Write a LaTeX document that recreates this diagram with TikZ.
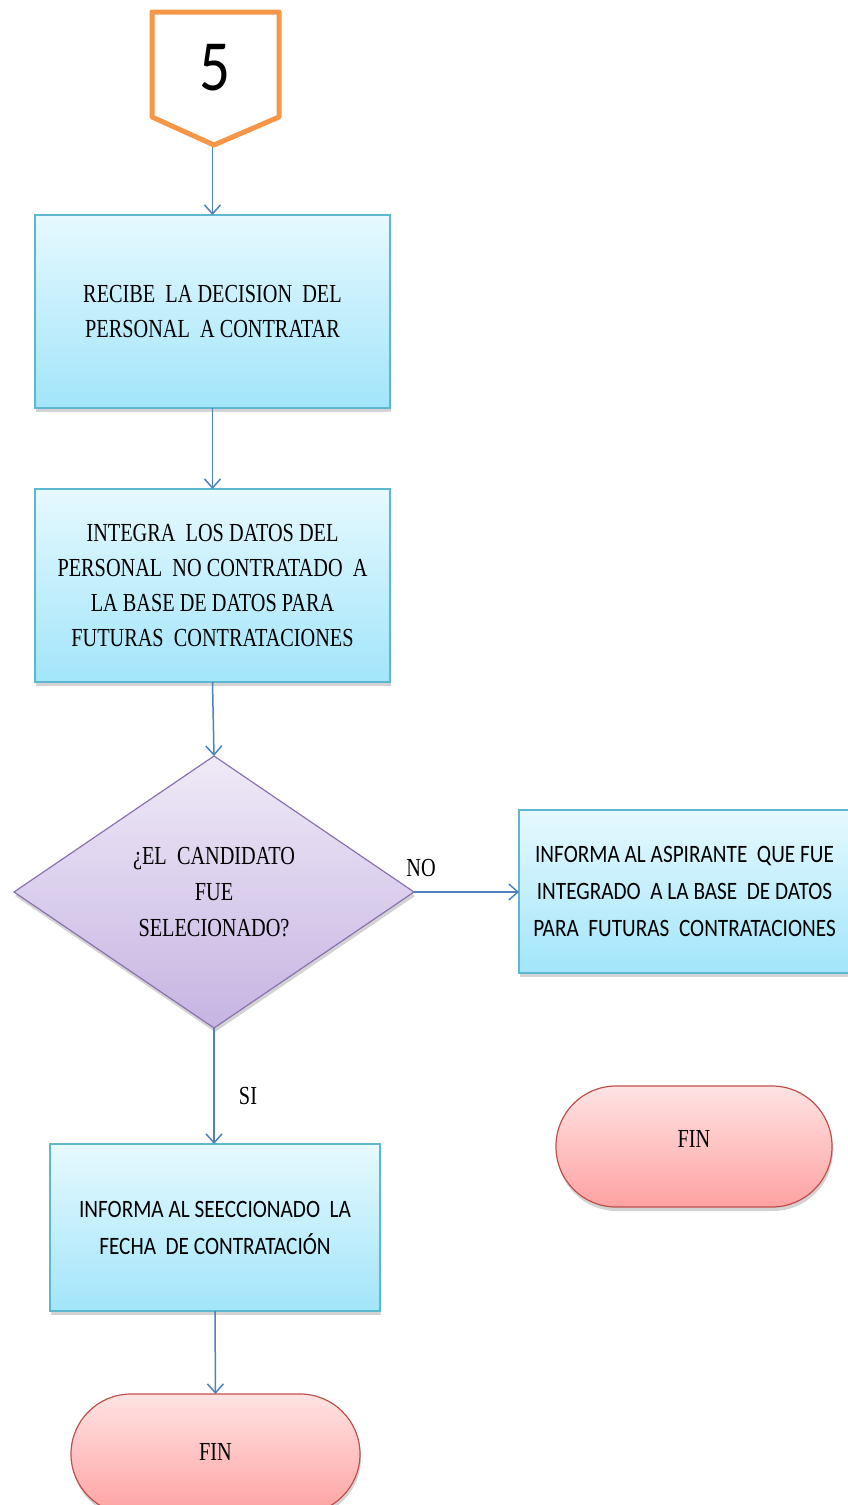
\documentclass[tikz,border=0pt]{standalone}
\usepackage{fontspec}
\setmainfont{Liberation Serif}[FakeStretch=0.78]
\newfontfamily\calibri{Carlito}[FakeStretch=0.85]
\usetikzlibrary{shapes.geometric,shadows,arrows.meta}
\definecolor{flecha}{HTML}{4F81BD}
\definecolor{naranja}{HTML}{F79646}
\definecolor{cianborde}{HTML}{5DB7CF}
\definecolor{ciantop}{HTML}{E6F9FE}
\definecolor{cianbot}{HTML}{A2E5FA}
\definecolor{lilaborde}{HTML}{8A72B0}
\definecolor{lilatop}{HTML}{EFEAF7}
\definecolor{lilabot}{HTML}{C6B4E2}
\definecolor{rojoborde}{HTML}{C0504D}
\definecolor{rojotop}{HTML}{FFE3E3}
\definecolor{rojobot}{HTML}{FFA2A2}
\begin{document}
\begin{tikzpicture}[x=1pt,y=-1pt,inner sep=0pt,outer sep=0pt,
sombra/.style={drop shadow={shadow xshift=1pt,shadow yshift=-4pt,opacity=0.35}},
procblock/.style={draw=cianborde,line width=1.5pt,rectangle,top color=ciantop,bottom color=cianbot,
  align=center,font=\fontsize{26}{35}\selectfont,sombra},
decblock/.style={draw=lilaborde,line width=1.2pt,diamond,top color=lilatop,bottom color=lilabot,
  align=center,font=\fontsize{26}{36}\selectfont,minimum width=400pt,minimum height=272pt,sombra},
finblock/.style={draw=rojoborde,line width=1.2pt,rectangle,rounded corners=60pt,top color=rojotop,bottom color=rojobot,
  align=center,font=\fontsize{26}{36}\selectfont,sombra},
etiqueta/.style={font=\fontsize{26}{36}\selectfont},
flujo/.style={draw=flecha,line width=1.5pt,-{Straight Barb[length=9pt,width=16pt,line width=1.5pt]}}]
\useasboundingbox (0,0) rectangle (848,1505);

% conector de pagina
\draw[naranja,line width=5pt,line join=round] (152,12) -- (279,12) -- (279,117) -- (214,145) -- (152,117) -- cycle;
\draw (215,68) node (n5) {\calibri\fontsize{72}{72}\selectfont 5};
\coordinate (c5) at (212.5,147);

\draw (212.5,311.5) node[procblock,minimum width=355pt,minimum height=193pt] (recibe)
  {RECIBE \ LA DECISION \ DEL\\PERSONAL \ A CONTRATAR};
\draw (212.5,585.5) node[procblock,minimum width=355pt,minimum height=193pt] (integra)
  {INTEGRA \ LOS DATOS DEL\\PERSONAL \ NO CONTRATADO \ A\\LA BASE DE DATOS PARA\\FUTURAS \ CONTRATACIONES};
\draw (214,892) node[decblock] (decide) {¿EL \ CANDIDATO\\FUE\\SELECIONADO?};
\draw (684.5,891.5) node[procblock,minimum width=331pt,minimum height=163pt,font=\calibri\fontsize{25}{37}\selectfont] (informa)
  {INFORMA AL ASPIRANTE \ QUE FUE\\INTEGRADO \ A LA BASE \ DE DATOS\\PARA \ FUTURAS \ CONTRATACIONES};
\draw (694,1146.5) node[finblock,minimum width=276pt,minimum height=121pt] (fin2) {\raisebox{16pt}{FIN}};
\draw (215,1227.5) node[procblock,minimum width=330pt,minimum height=167pt,font=\calibri\fontsize{25}{37}\selectfont] (fecha)
  {INFORMA AL SEECCIONADO \ LA\\FECHA \ DE CONTRATACIÓN};
\draw (215.5,1454) node[finblock,minimum width=289pt,minimum height=120pt] (fin1) {\raisebox{4pt}{FIN}};

\draw (421,868) node[etiqueta] (no) {NO};
\draw (248,1096) node[etiqueta] (si) {SI};

\draw[flujo] (c5) -- (c5 |- recibe.north);
\draw[flujo] (recibe.south) -- (integra.north);
\draw[flujo] (integra.south) -- (decide.north);
\draw[flujo] (decide.east) -- (informa.west |- decide.east);
\draw[flujo] (decide.south) -- (decide.south |- fecha.north);
\draw[flujo] (fecha.south) -- (fin1.north);
\end{tikzpicture}
\end{document}
